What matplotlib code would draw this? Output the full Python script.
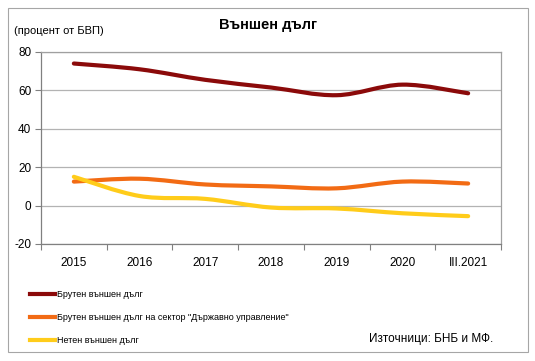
import numpy as np
import matplotlib.pyplot as plt
from matplotlib.path import Path
from matplotlib.patches import PathPatch, Rectangle
from matplotlib.lines import Line2D

plt.rcParams['font.family'] = ['Liberation Sans', 'DejaVu Sans']
plt.rcParams['axes.unicode_minus'] = False

years = ['2015', '2016', '2017', '2018', '2019', '2020', 'III.2021']
gross_debt = [74, 71, 65.5, 61.5, 57.5, 63, 58.5]
gov_debt = [12.5, 14, 11, 10, 9, 12.5, 11.5]
net_debt = [15, 5, 3.5, -1, -1.5, -4, -5.5]

labels = ['Брутен външен дълг',
          'Брутен външен дълг на сектор "Държавно управление"',
          'Нетен външен дълг']
colors = ['#8B0A0A', '#F26B14', '#FFCC1A']


def smooth_path(x, y):
    # Безие криви като "smoothed line" в Excel
    x = np.asarray(x, float)
    y = np.asarray(y, float)
    n = len(x)
    verts = [(x[0], y[0])]
    codes = [Path.MOVETO]
    for i in range(n - 1):
        p0 = np.array([x[max(i - 1, 0)], y[max(i - 1, 0)]])
        p1 = np.array([x[i], y[i]])
        p2 = np.array([x[i + 1], y[i + 1]])
        p3 = np.array([x[min(i + 2, n - 1)], y[min(i + 2, n - 1)]])
        c1 = p1 + (p2 - p0) / 6
        c2 = p2 - (p3 - p1) / 6
        verts += [tuple(c1), tuple(c2), tuple(p2)]
        codes += [Path.CURVE4] * 3
    return Path(verts, codes)


fig = plt.figure(figsize=(5.35, 3.61), dpi=100)
fig.patch.set_facecolor('white')
fig.patches.append(Rectangle((8 / 535, 9 / 361), 520 / 535, 344 / 361,
                             transform=fig.transFigure, fill=False,
                             edgecolor='#A6A6A6', linewidth=0.8))

ax = fig.add_axes([41 / 535, 1 - 244 / 361, 460 / 535, 192 / 361])
x = np.arange(len(years))
for vals, c in zip([gross_debt, gov_debt, net_debt], colors):
    ax.add_patch(PathPatch(smooth_path(x, vals), fill=False, edgecolor=c,
                           linewidth=3, capstyle='round', joinstyle='round',
                           zorder=3))

ax.set_xlim(-0.5, len(years) - 0.5)
ax.set_ylim(-20, 80)
ax.set_yticks(range(-20, 81, 20))
ax.set_xticks(x)
ax.set_xticklabels(years)
ax.set_xticks(np.arange(-0.5, len(years)), minor=True)
ax.tick_params(axis='x', which='major', length=0, pad=9, labelsize=8.5)
ax.tick_params(axis='x', which='minor', length=4, width=0.8, color='#808080')
ax.tick_params(axis='y', length=4, width=0.8, color='#808080', labelsize=8.5, pad=3)
ax.grid(axis='y', color='#B3B3B3', linewidth=0.9)
ax.set_axisbelow(True)
for s in ax.spines.values():
    s.set_color('#A0A0A0')
    s.set_linewidth(0.9)
ax.spines['left'].set_color('#808080')
ax.spines['bottom'].set_color('#808080')

fig.text(268 / 535, 1 - 25 / 361, 'Външен дълг', ha='center', va='center',
         fontsize=10.5, fontweight='bold')
fig.text(14 / 535, 1 - 31 / 361, '(процент от БВП)', ha='left', va='center',
         fontsize=8)
fig.text(493 / 535, 1 - 339 / 361, 'Източници: БНБ и МФ.', ha='right',
         va='center', fontsize=8.5)

handles = [Line2D([], [], color=c, linewidth=3) for c in colors]
fig.legend(handles, labels, loc='upper left',
           bbox_to_anchor=(22 / 535, 1 - 282 / 361), frameon=False,
           fontsize=6.5, handlelength=2.8, handletextpad=0.15,
           labelspacing=1.55)

fig.savefig('out.png', dpi=100)
